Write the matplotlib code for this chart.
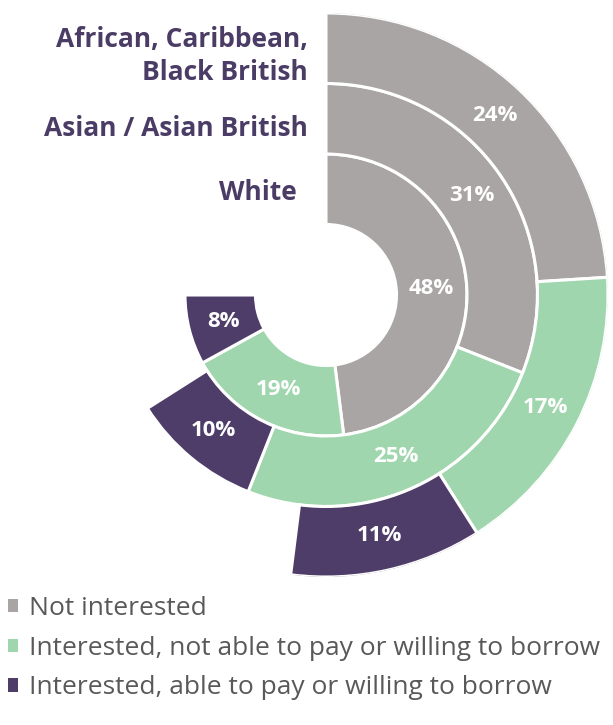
import numpy as np
import matplotlib.pyplot as plt
from matplotlib.patches import Patch

plt.rcParams["font.family"] = ["Open Sans", "DejaVu Sans"]

# rings from inside out
groups = ["White", "Asian / Asian British", "African, Caribbean,\nBlack British"]
categories = [
    "Not interested",
    "Interested, not able to pay or willing to borrow",
    "Interested, able to pay or willing to borrow",
]
not_interested = [48, 31, 24]
interested_cannot = [19, 25, 17]
interested_can = [8, 10, 11]

colors = ["#A9A5A5", "#A0D6AE", "#4E3D68"]
label_color = "#4B3C66"
legend_text = "#595959"

W, H = 613, 725
fig = plt.figure(figsize=(W / 100, H / 100), dpi=100)

# polar axes centred at (326, 295) px, outer radius 282 px
cx, cy, R = 326, 295, 282
ax = fig.add_axes([(cx - R) / W, (H - cy - R) / H, 2 * R / W, 2 * R / H],
                  projection="polar")
ax.set_theta_zero_location("N")
ax.set_theta_direction(-1)
ax.set_ylim(0, 4)
ax.axis("off")

series = [not_interested, interested_cannot, interested_can]
for ring in range(3):
    start = 0.0
    for k, vals in enumerate(series):
        v = vals[ring]
        width = v / 100 * 2 * np.pi
        ax.bar(start, 1, width=width, bottom=ring + 1, align="edge",
               color=colors[k], edgecolor="white", linewidth=2.2)
        ax.text(start + width / 2, ring + 1.5, f"{v}%", ha="center",
                va="center", color="white", fontsize=16, fontweight="bold")
        start += width

# group labels to the left of the rings
fs = 19
fig.text(308 / W, 1 - 40 / H, "African, Caribbean,", ha="right", va="center",
         fontsize=fs, fontweight="bold", color=label_color)
fig.text(308 / W, 1 - 73 / H, "Black British", ha="right", va="center",
         fontsize=fs, fontweight="bold", color=label_color)
fig.text(308 / W, 1 - 128 / H, "Asian / Asian British", ha="right",
         va="center", fontsize=fs, fontweight="bold", color=label_color)
fig.text(297 / W, 1 - 192 / H, "White", ha="right", va="center",
         fontsize=fs, fontweight="bold", color=label_color)

handles = [Patch(facecolor=c, edgecolor="none") for c in colors]
fig.legend(handles, categories, loc="upper left",
           bbox_to_anchor=(0.0, 1 - 588 / H), frameon=False,
           fontsize=19, labelcolor=legend_text, handlelength=0.4,
           handleheight=0.4, handletextpad=0.4, labelspacing=0.56,
           borderaxespad=0.0, borderpad=0.3)

fig.savefig("out.png", dpi=100, facecolor="white")
